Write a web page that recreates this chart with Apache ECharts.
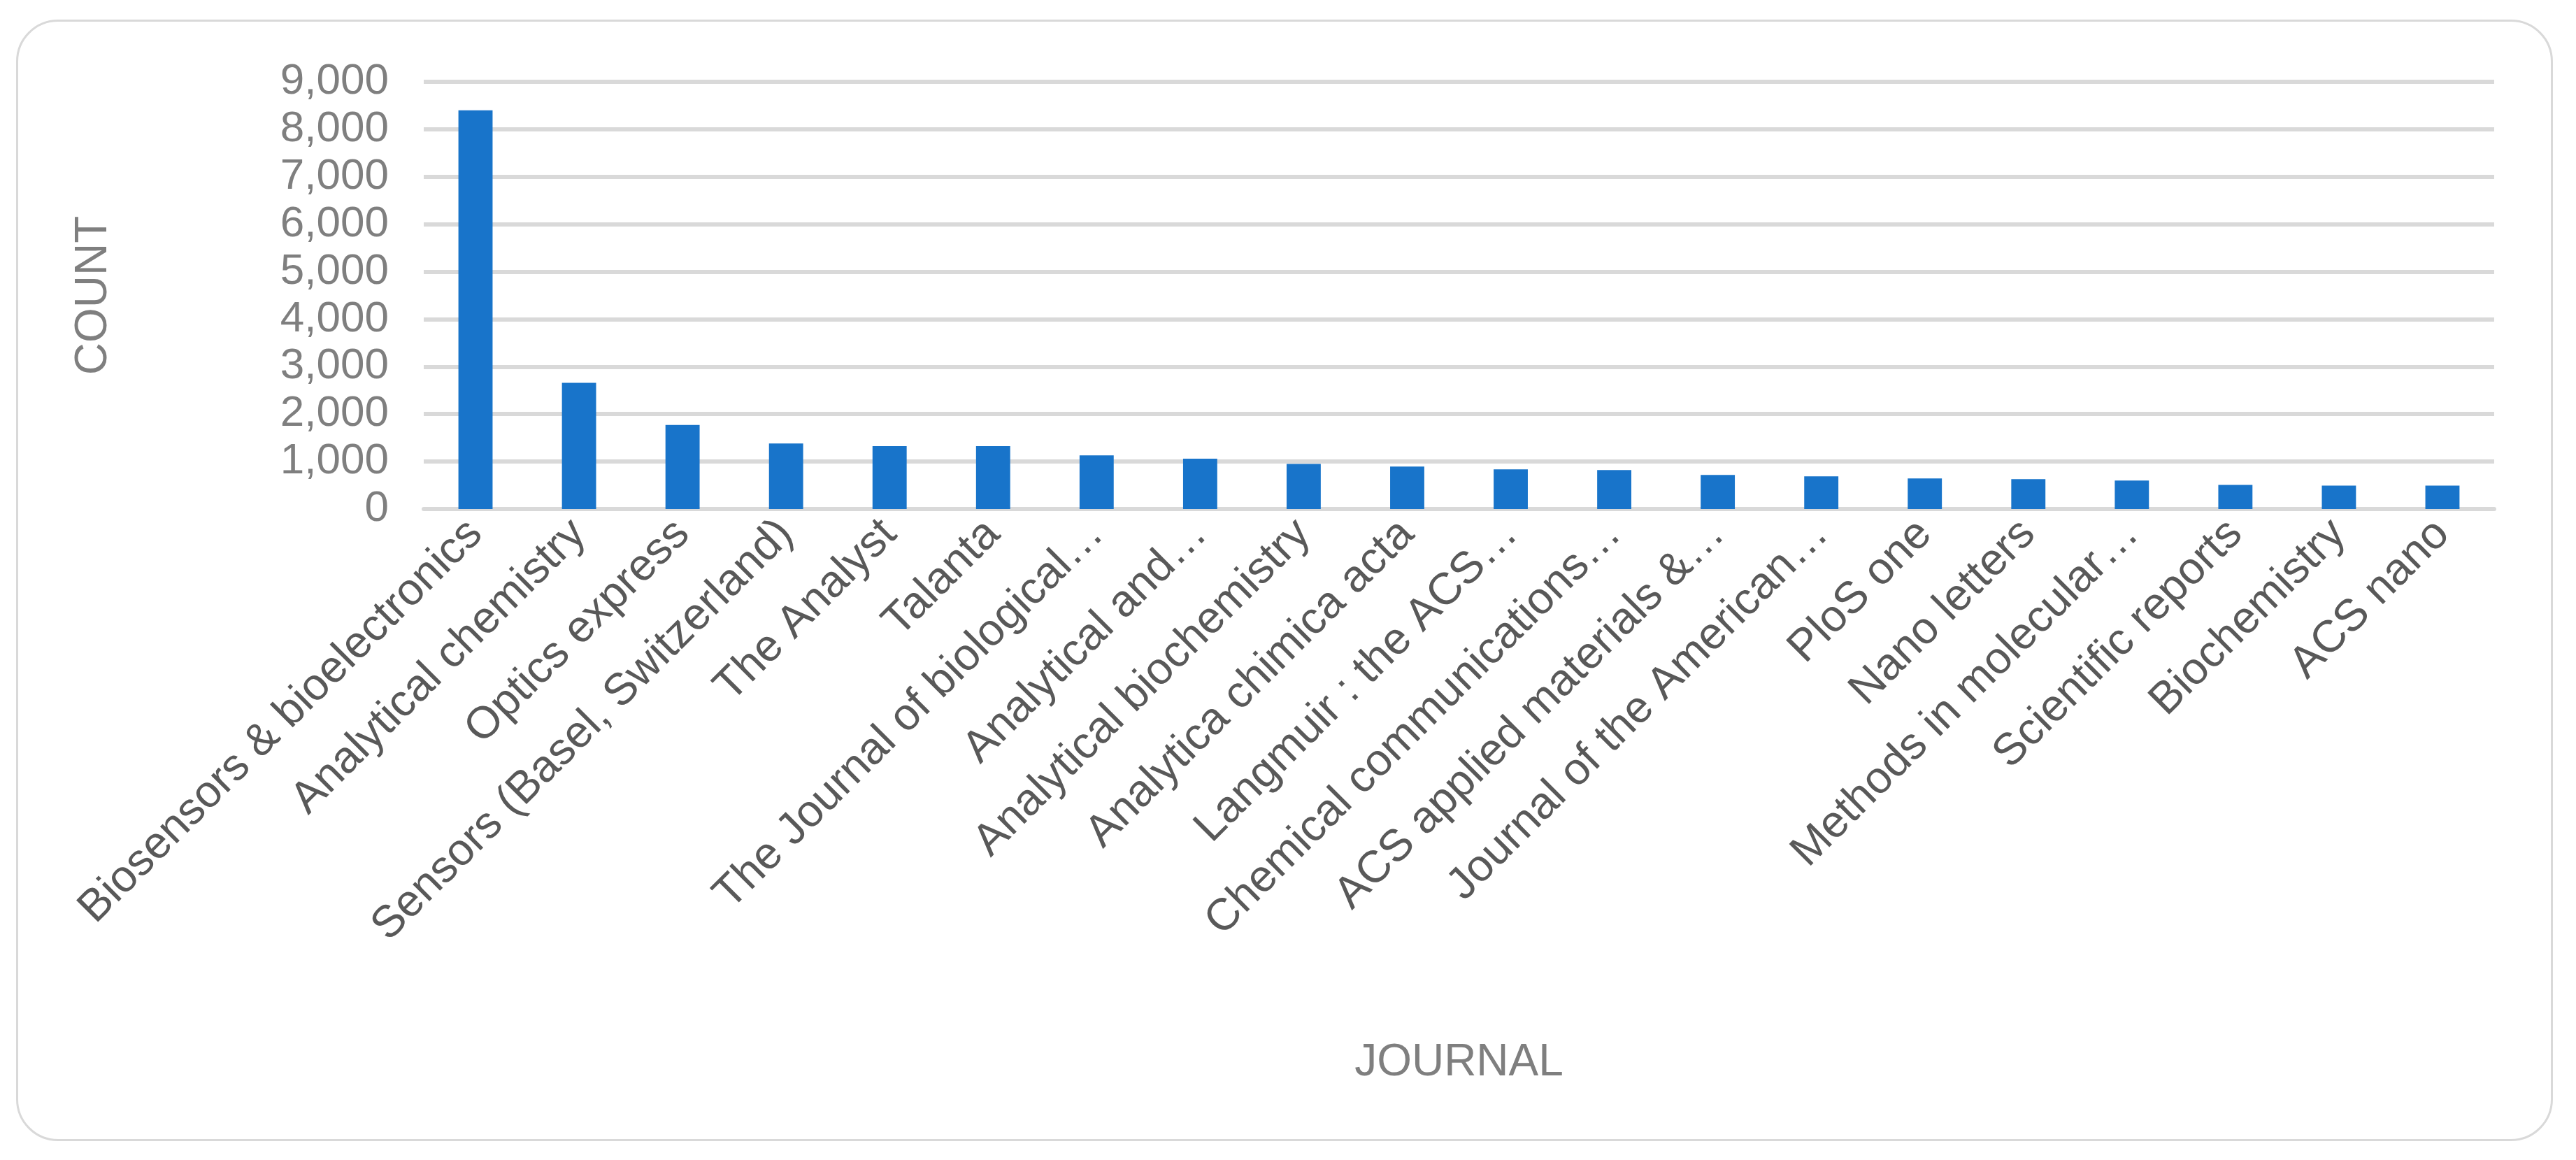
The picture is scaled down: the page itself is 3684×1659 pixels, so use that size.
<!DOCTYPE html>
<html lang="en" style="height: 100%">
<head>
  <meta charset="utf-8">
  <title>Count by Journal</title>
  <script src="https://cdn.jsdelivr.net/npm/echarts@6/dist/echarts.min.js"></script>
</head>
<body style="height: 100%; margin: 0; background: #fff">
  <div id="frame" style="position:absolute; left:23px; top:28px; width:3628px; height:1604px; border:3px solid #d9d9d9; border-radius:60px; box-sizing:border-box;"></div>
  <div id="chart" style="position:absolute; left:0; top:0; width:3684px; height:1659px;"></div>
  <script type="text/javascript">
    const journals = [
      'Biosensors & bioelectronics', 'Analytical chemistry', 'Optics express',
      'Sensors (Basel, Switzerland)', 'The Analyst', 'Talanta',
      'The Journal of biological…', 'Analytical and…', 'Analytical biochemistry',
      'Analytica chimica acta', 'Langmuir : the ACS…', 'Chemical communications…',
      'ACS applied materials &…', 'Journal of the American…', 'PloS one',
      'Nano letters', 'Methods in molecular…', 'Scientific reports',
      'Biochemistry', 'ACS nano'
    ];
    const counts = [8400, 2660, 1770, 1380, 1325, 1325, 1130, 1060, 950, 895,
      835, 822, 718, 688, 644, 629, 599, 510, 495, 495];
    const yTicks = { min: 0, max: 9000, interval: 1000 };

    const chart = echarts.init(document.getElementById('chart'));
    chart.setOption({
      animation: false,
      grid: { left: 606, right: 117, top: 117, bottom: 931 },
      xAxis: {
        type: 'category',
        data: journals,
        name: 'JOURNAL',
        nameLocation: 'middle',
        nameGap: 760,
        nameTextStyle: { fontSize: 64, color: '#7f7f7f', fontFamily: 'Liberation Sans' },
        axisLine: { show: true, lineStyle: { color: '#d9d9d9', width: 6 } },
        axisTick: { show: false },
        axisLabel: {
          rotate: 45, interval: 0, fontSize: 64, color: '#595959',
          fontFamily: 'Liberation Sans', margin: 26
        }
      },
      yAxis: {
        type: 'value',
        min: yTicks.min, max: yTicks.max, interval: yTicks.interval,
        name: 'COUNT',
        nameLocation: 'middle',
        nameGap: 440,
        nameTextStyle: { fontSize: 64, color: '#7f7f7f', fontFamily: 'Liberation Sans' },
        axisLine: { show: false },
        axisTick: { show: false },
        splitLine: { lineStyle: { color: '#d9d9d9', width: 6 } },
        axisLabel: {
          fontSize: 62, color: '#7f7f7f', fontFamily: 'Liberation Sans', margin: 50,
          formatter: v => v.toLocaleString('en-US')
        }
      },
      series: [{
        type: 'bar',
        data: counts,
        barWidth: '33%',
        itemStyle: { color: '#1874CA' }
      }]
    });
  </script>
</body>
</html>
